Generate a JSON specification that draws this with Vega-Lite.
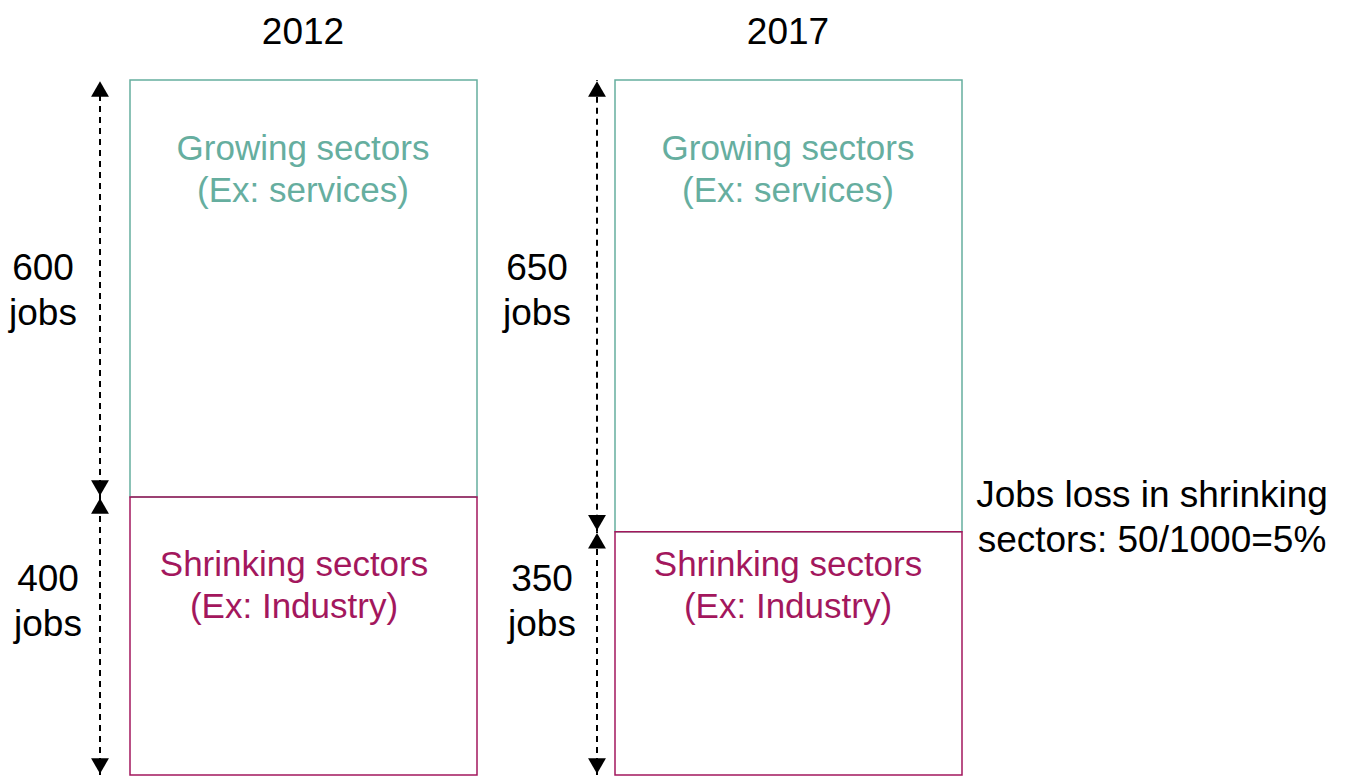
{
  "$schema": "https://vega.github.io/schema/vega-lite/v6.json",
  "width": 1349,
  "height": 776,
  "autosize": {"type": "fit", "contains": "padding"},
  "padding": 0,
  "background": "white",
  "config": {"view": {"stroke": null}, "text": {"font": "Liberation Sans"}},
  "datasets": {
    "boxes": [
      {"year": "2012", "sector": "growing", "x0": 130, "x1": 477, "y0": 400, "y1": 1000},
      {"year": "2012", "sector": "shrinking", "x0": 130, "x1": 477, "y0": 0, "y1": 400},
      {"year": "2017", "sector": "growing", "x0": 615, "x1": 962, "y0": 350, "y1": 1000},
      {"year": "2017", "sector": "shrinking", "x0": 615, "x1": 962, "y0": 0, "y1": 350}
    ],
    "arrows": [
      {"x": 100, "y0": 400, "y1": 1000},
      {"x": 100, "y0": 0, "y1": 400},
      {"x": 597, "y0": 350, "y1": 1000},
      {"x": 597, "y0": 0, "y1": 350}
    ],
    "sectorLabels": [
      {"x": 303, "y": 900, "text": "Growing sectors\n(Ex: services)", "kind": "growing"},
      {"x": 788, "y": 900, "text": "Growing sectors\n(Ex: services)", "kind": "growing"},
      {"x": 294, "y": 302, "text": "Shrinking sectors\n(Ex: Industry)", "kind": "shrinking"},
      {"x": 788, "y": 302, "text": "Shrinking sectors\n(Ex: Industry)", "kind": "shrinking"}
    ],
    "blackLabels": [
      {"x": 303, "y": 1068, "text": "2012"},
      {"x": 788, "y": 1068, "text": "2017"},
      {"x": 43, "y": 728, "text": "600\njobs"},
      {"x": 48, "y": 280, "text": "400\njobs"},
      {"x": 537, "y": 728, "text": "650\njobs"},
      {"x": 542, "y": 280, "text": "350\njobs"},
      {"x": 1152, "y": 401, "text": "Jobs loss in shrinking\nsectors: 50/1000=5%"}
    ]
  },
  "layer": [
    {
      "data": {"name": "boxes"},
      "mark": {"type": "rect", "fill": "white", "fillOpacity": 0, "strokeWidth": 1.5},
      "encoding": {
        "x": {"field": "x0", "type": "quantitative", "scale": {"domain": [0, 1349], "nice": false, "zero": false}, "axis": null},
        "x2": {"field": "x1"},
        "y": {"field": "y0", "type": "quantitative", "scale": {"domain": [-1.44, 1115.1], "nice": false, "zero": false}, "axis": null},
        "y2": {"field": "y1"},
        "stroke": {"field": "sector", "type": "nominal", "scale": {"domain": ["growing", "shrinking"], "range": ["#66ae9f", "#a3175d"]}, "legend": null}
      }
    },
    {
      "data": {"name": "arrows"},
      "mark": {"type": "rule", "strokeDash": [6, 5], "strokeWidth": 2, "color": "black"},
      "encoding": {
        "x": {"field": "x", "type": "quantitative"},
        "y": {"field": "y0", "type": "quantitative"},
        "y2": {"field": "y1"}
      }
    },
    {
      "data": {"name": "arrows"},
      "mark": {"type": "point", "shape": "triangle-up", "filled": true, "color": "black", "size": 320, "opacity": 1, "yOffset": 9},
      "encoding": {
        "x": {"field": "x", "type": "quantitative"},
        "y": {"field": "y1", "type": "quantitative"}
      }
    },
    {
      "data": {"name": "arrows"},
      "mark": {"type": "point", "shape": "triangle-down", "filled": true, "color": "black", "size": 320, "opacity": 1, "yOffset": -9},
      "encoding": {
        "x": {"field": "x", "type": "quantitative"},
        "y": {"field": "y0", "type": "quantitative"}
      }
    },
    {
      "data": {"name": "sectorLabels"},
      "mark": {"type": "text", "fontSize": 35, "lineBreak": "\n", "lineHeight": 42, "align": "center", "baseline": "middle"},
      "encoding": {
        "x": {"field": "x", "type": "quantitative"},
        "y": {"field": "y", "type": "quantitative"},
        "text": {"field": "text"},
        "color": {"field": "kind", "type": "nominal", "scale": {"domain": ["growing", "shrinking"], "range": ["#66ae9f", "#a3175d"]}, "legend": null}
      }
    },
    {
      "data": {"name": "blackLabels"},
      "mark": {"type": "text", "fontSize": 37, "lineBreak": "\n", "lineHeight": 45, "align": "center", "baseline": "middle", "color": "black"},
      "encoding": {
        "x": {"field": "x", "type": "quantitative"},
        "y": {"field": "y", "type": "quantitative"},
        "text": {"field": "text"}
      }
    }
  ]
}
